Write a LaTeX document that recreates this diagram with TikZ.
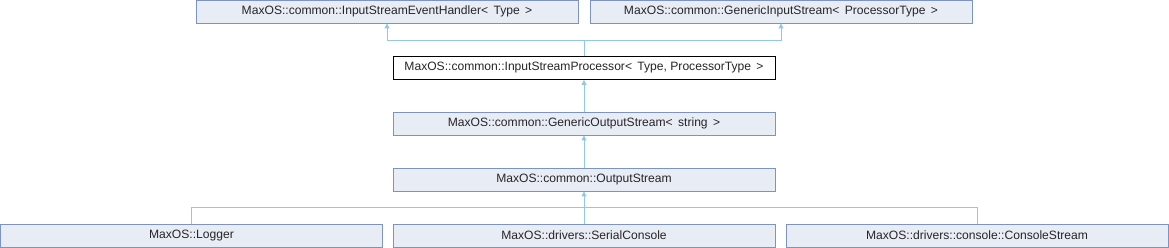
\documentclass[tikz,border=0pt]{standalone}
\usepackage{fontspec}
\setmainfont{Liberation Sans}
\usetikzlibrary{arrows.meta}
\definecolor{boxfill}{HTML}{E8ECF5}
\definecolor{boxline}{HTML}{7D93C6}
\definecolor{edgecol}{HTML}{8FC8E8}
\begin{document}
\begin{tikzpicture}[x=1pt,y=-1pt,
  cls/.style={draw=boxline,fill=boxfill,line width=0.9pt,minimum width=382pt,minimum height=23pt,inner sep=0pt,text=black!85,font=\fontsize{12.1}{13}\selectfont},
  cur/.style={cls,draw=black,fill=white},
  edge/.style={draw=edgecol,line width=0.9pt},
  inh/.style={edge,-{Triangle[width=5pt,length=5pt]}}]
\useasboundingbox (0,0) rectangle (1169,248);
\node[cls] (ieh) at (387,11.5) {MaxOS::common::InputStreamEventHandler<\,\ Type\ \,>};
\node[cls] (gis) at (781,11.5) {MaxOS::common::GenericInputStream<\,\ ProcessorType\ \,>};
\node[cur] (isp) at (584,68) {MaxOS::common::InputStreamProcessor<\,\ Type,\ ProcessorType\ \,>};
\node[cls] (gos) at (584,123.5) {MaxOS::common::GenericOutputStream<\,\ string\ \,>};
\node[cls] (os) at (584,179.5) {MaxOS::common::OutputStream};
\node[cls] (logger) at (191.5,235.5) {MaxOS::Logger};
\node[cls] (serial) at (584,235.5) {MaxOS::drivers::SerialConsole};
\node[cls] (console) at (977,235.5) {MaxOS::drivers::console::ConsoleStream};
\coordinate (j1) at (584,40);
\coordinate (j2) at (584,207.5);
\draw[inh] (isp.north) -- (j1) -| (ieh.south);
\draw[inh] (j1) -| (gis.south);
\draw[inh] (gos.north) -- (isp.south);
\draw[inh] (os.north) -- (gos.south);
\draw[edge] (logger.north) |- (j2);
\draw[edge] (console.north) |- (j2);
\draw[inh] (serial.north) -- (os.south);
\end{tikzpicture}
\end{document}
